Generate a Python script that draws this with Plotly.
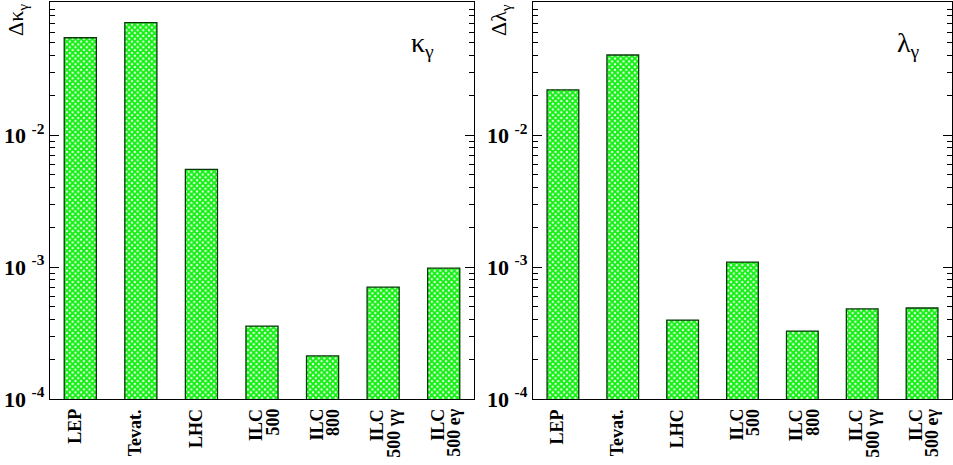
import plotly.graph_objects as go

categories = ["LEP", "Tevat.", "LHC", "ILC 500", "ILC 800", "ILC 500 γγ", "ILC 500 eγ"]
label_line1 = ["LEP", "Tevat.", "LHC", "ILC", "ILC", "ILC", "ILC"]
label_line2 = ["", "", "", "500", "800", "500 γγ", "500 eγ"]
kappa_vals = [0.0546, 0.071, 0.0055, 3.57e-4, 2.12e-4, 7.05e-4, 9.8e-4]
lambda_vals = [0.022, 0.0404, 3.96e-4, 1.09e-3, 3.27e-4, 4.81e-4, 4.89e-4]

major_vals = [1e-4, 1e-3, 1e-2]
major_text = ["<b>10 <sup>-4</sup></b>", "<b>10 <sup>-3</sup></b>", "<b>10 <sup>-2</sup></b>"]
minor_vals = [m * d for d in (1e-4, 1e-3, 1e-2) for m in range(2, 10)]

SERIF = "Liberation Serif, Times New Roman, serif"
W, H = 953, 465

fig = go.Figure()
for vals, xa, ya in ((kappa_vals, "x", "y"), (lambda_vals, "x2", "y2")):
    fig.add_trace(go.Bar(
        x=categories, y=vals, xaxis=xa, yaxis=ya, width=0.53,
        marker=dict(color="white",
                    line=dict(color="#083808", width=1.3),
                    pattern=dict(shape="x", fgcolor="#11f011", bgcolor="white",
                                 size=4, solidity=0.75, fillmode="replace")),
        showlegend=False, hoverinfo="skip"))

xdoms = [(50 / W, 474 / W), (533 / W, 952 / W)]
for i, dom in enumerate(xdoms):
    sfx = "" if i == 0 else str(i + 1)
    fig.update_layout(**{
        f"xaxis{sfx}": dict(domain=list(dom), anchor=f"y{sfx}", showline=True, mirror=True,
                            linecolor="black", linewidth=1.3, ticks="", showticklabels=False,
                            automargin=False, showgrid=False, zeroline=False),
        f"yaxis{sfx}": dict(type="log", range=[-4, -0.992], anchor=f"x{sfx}",
                            showline=True, mirror="allticks", linecolor="black", linewidth=1.3,
                            automargin=False,
                            tickvals=major_vals, ticktext=major_text, ticks="inside",
                            ticklen=9, tickcolor="black", tickwidth=1,
                            minor=dict(tickvals=minor_vals, ticks="inside", ticklen=5,
                                       tickcolor="black", tickwidth=1, showgrid=False),
                            tickfont=dict(family=SERIF, size=22, color="black"),
                            showgrid=False, zeroline=False),
    })

# rotated category labels (two lines packed tightly as in the original)
for xa, ya in (("x", "y"), ("x2", "y2")):
    for cat, l1, l2 in zip(categories, label_line1, label_line2):
        if l2:
            parts = ((l1, -6), (l2, 10))
        else:
            parts = ((l1, -6),)
        for txt, shift in parts:
            fig.add_annotation(text=f"<b>{txt}</b>", xref=xa, yref=f"{ya} domain",
                               x=cat, y=0, xanchor="center", yanchor="top",
                               xshift=shift, yshift=-8, textangle=-90, showarrow=False,
                               font=dict(family=SERIF, size=18, color="black"))

fig.add_annotation(text="Δκ<sub>γ</sub>", xref="paper", yref="paper", x=17 / W, y=1.0,
                   xanchor="center", yanchor="top", textangle=-90, showarrow=False,
                   font=dict(family=SERIF, size=22, color="black"))
fig.add_annotation(text="Δλ<sub>γ</sub>", xref="paper", yref="paper", x=500 / W, y=1.0,
                   xanchor="center", yanchor="top", textangle=-90, showarrow=False,
                   font=dict(family=SERIF, size=22, color="black"))
fig.add_annotation(text="κ<sub>γ</sub>", xref="paper", yref="paper", x=422 / W, y=1 - 50 / 465,
                   xanchor="center", yanchor="middle", showarrow=False,
                   font=dict(family=SERIF, size=28, color="black"))
fig.add_annotation(text="λ<sub>γ</sub>", xref="paper", yref="paper", x=908 / W, y=1 - 50 / 465,
                   xanchor="center", yanchor="middle", showarrow=False,
                   font=dict(family=SERIF, size=28, color="black"))

fig.update_layout(width=W, height=H, margin=dict(l=0, r=0, t=2, b=66, autoexpand=False),
                  plot_bgcolor="white", paper_bgcolor="white", bargap=0.47)
fig.write_html("out.html", config={"displayModeBar": False},
               post_script="document.body.style.margin='0';document.body.style.padding='0';")
